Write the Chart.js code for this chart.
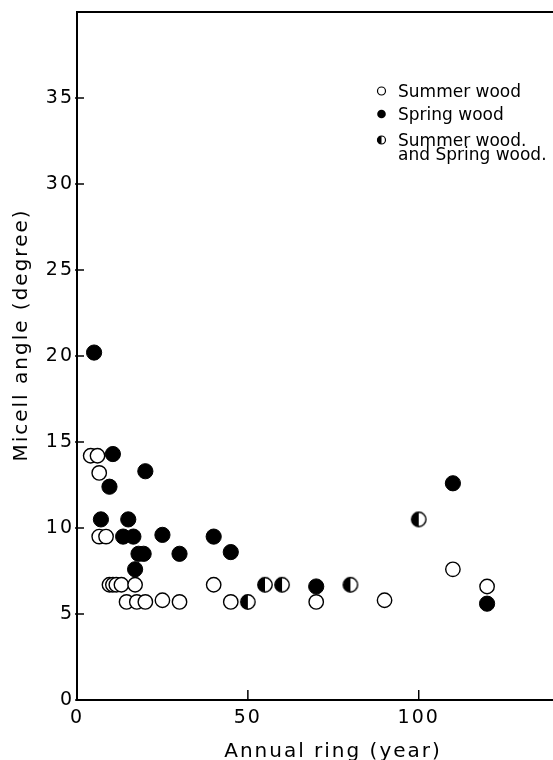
<!DOCTYPE html>
<html>
<head>
<meta charset="utf-8">
<script src="https://cdn.jsdelivr.net/npm/chart.js@4"></script>
<style>
  html, body { margin: 0; padding: 0; background: #fff; overflow: hidden; }
  #wrap { width: 553px; height: 760px; }
  canvas { display: block; }
</style>
</head>
<body>
<div id="wrap"><canvas id="micellChart" width="553" height="760"></canvas></div>
<script>
// Summer wood (open circles)
const summerX = [4, 6, 6.5, 6.5, 8.5, 9.5, 10.5, 11.5, 13, 17, 14.5, 17.5, 20, 25, 30, 40, 45, 70, 90, 110, 120];
const summerY = [14.2, 14.2, 13.2, 9.5, 9.5, 6.7, 6.7, 6.7, 6.7, 6.7, 5.7, 5.7, 5.7, 5.8, 5.7, 6.7, 5.7, 5.7, 5.8, 7.6, 6.6];

// Spring wood (filled circles)
const springX = [5, 10.5, 20, 9.5, 7, 15, 13.5, 16.5, 25, 40, 18, 19.5, 30, 45, 17, 70, 110, 120];
const springY = [20.2, 14.3, 13.3, 12.4, 10.5, 10.5, 9.5, 9.5, 9.6, 9.5, 8.5, 8.5, 8.5, 8.6, 7.6, 6.6, 12.6, 5.6];

// Summer wood and spring wood (half filled)
const bothX = [50, 55, 60, 80, 100];
const bothY = [5.7, 6.7, 6.7, 6.7, 10.5];

const xTicks = [0, 50, 100];
const yTicks = [0, 5, 10, 15, 20, 25, 30, 35];

const legendLabels = ['Summer wood', 'Spring wood', 'Summer wood.', 'and Spring wood.'];

function toPoints(xs, ys) {
    return xs.map((x, i) => ({ x: x, y: ys[i] }));
}

// circle with left half black, used as a point style
function halfDot(r, lw) {
    var size = Math.ceil(2 * r + lw + 2);
    var c = document.createElement('canvas');
    c.width = size;
    c.height = size;
    var g = c.getContext('2d');
    var m = size / 2;
    g.fillStyle = '#fff';
    g.beginPath(); g.arc(m, m, r, 0, 2 * Math.PI); g.fill();
    g.fillStyle = '#000';
    g.beginPath(); g.arc(m, m, r, Math.PI / 2, Math.PI * 1.5); g.closePath(); g.fill();
    g.lineWidth = lw;
    g.strokeStyle = '#000';
    g.beginPath(); g.arc(m, m, r, 0, 2 * Math.PI); g.stroke();
    return c;
}

const FONT = '"DejaVu Sans", sans-serif';

// ticks pointing into the plot, top frame line, axis titles and key
const decorations = {
    id: 'decorations',
    beforeDraw(chart) {
        const ctx = chart.ctx;
        ctx.save();
        ctx.fillStyle = '#fff';
        ctx.fillRect(0, 0, chart.width, chart.height);
        ctx.restore();
        ctx.letterSpacing = '2px';
    },
    afterDraw(chart) {
        const ctx = chart.ctx;
        const area = chart.chartArea;
        const xs = chart.scales.x, ys = chart.scales.y;
        ctx.save();
        ctx.letterSpacing = '0px';
        ctx.strokeStyle = '#000';
        ctx.fillStyle = '#000';

        ctx.lineWidth = 2;
        ctx.beginPath();
        ctx.moveTo(area.left - 1, area.top);
        ctx.lineTo(chart.width, area.top);
        ctx.stroke();

        ctx.lineWidth = 1.5;
        xTicks.forEach(v => {
            const px = xs.getPixelForValue(v);
            ctx.beginPath();
            ctx.moveTo(px, area.bottom);
            ctx.lineTo(px, area.bottom - 10);
            ctx.stroke();
        });
        yTicks.forEach(v => {
            const py = ys.getPixelForValue(v);
            ctx.beginPath();
            ctx.moveTo(area.left - 2, py);
            ctx.lineTo(area.left + 7, py);
            ctx.stroke();
        });

        // axis titles
        ctx.letterSpacing = '2px';
        ctx.font = '20px ' + FONT;
        ctx.textAlign = 'center';
        ctx.textBaseline = 'alphabetic';
        ctx.fillText('Annual ring (year)', 333, 757);
        ctx.save();
        ctx.translate(27, 335);
        ctx.rotate(-Math.PI / 2);
        ctx.fillText('Micell angle (degree)', 0, 0);
        ctx.restore();

        // key
        ctx.letterSpacing = '0px';
        ctx.font = '17px ' + FONT;
        ctx.textAlign = 'left';
        const kx = 381.5, tx = 398;
        const rows = [91, 114, 140];
        ctx.lineWidth = 1.2;
        ctx.beginPath(); ctx.arc(kx, rows[0], 4, 0, 2 * Math.PI); ctx.stroke();
        ctx.beginPath(); ctx.arc(kx, rows[1], 4.3, 0, 2 * Math.PI); ctx.fill();
        ctx.beginPath(); ctx.arc(kx, rows[2], 4, Math.PI / 2, Math.PI * 1.5); ctx.closePath(); ctx.fill();
        ctx.beginPath(); ctx.arc(kx, rows[2], 4, 0, 2 * Math.PI); ctx.stroke();
        ctx.fillText(legendLabels[0], tx, 97);
        ctx.fillText(legendLabels[1], tx, 120);
        ctx.fillText(legendLabels[2], tx, 146);
        ctx.fillText(legendLabels[3], tx, 160);
        ctx.restore();
    }
};

var ctx = document.getElementById('micellChart').getContext('2d');
var micellChart = new Chart(ctx, {
    type: 'scatter',
    data: {
        datasets: [{
            label: 'Summer wood',
            data: toPoints(summerX, summerY),
            pointStyle: 'circle',
            pointRadius: 7.2,
            borderWidth: 1.4,
            borderColor: '#000',
            backgroundColor: '#fff',
            order: 3
        }, {
            label: 'Spring wood',
            data: toPoints(springX, springY),
            pointStyle: 'circle',
            pointRadius: 7.6,
            borderWidth: 1,
            borderColor: '#000',
            backgroundColor: '#000',
            order: 2
        }, {
            label: 'Summer wood and Spring wood',
            data: toPoints(bothX, bothY),
            pointStyle: halfDot(7.2, 1.4),
            pointRadius: 7.2,
            borderColor: '#000',
            backgroundColor: '#000',
            order: 1
        }]
    },
    options: {
        responsive: false,
        animation: false,
        layout: { autoPadding: false, padding: { left: 0, top: 12, right: 1, bottom: 0 } },
        plugins: {
            legend: { display: false },
            tooltip: { enabled: false }
        },
        scales: {
            x: {
                type: 'linear',
                min: 0,
                max: 139,
                afterBuildTicks: (scale) => { scale.ticks = xTicks.map(v => ({ value: v })); },
                afterFit: (scale) => {
                    scale.height = 60;
                    scale.paddingLeft = 0;
                    scale.paddingRight = 0;
                },
                grid: { drawOnChartArea: false, drawTicks: false },
                border: { display: true, color: '#000', width: 2 },
                ticks: { color: '#000', padding: 7, maxRotation: 0, font: { family: FONT, size: 19 } }
            },
            y: {
                type: 'linear',
                min: 0,
                max: 40,
                afterBuildTicks: (scale) => { scale.ticks = yTicks.map(v => ({ value: v })); },
                afterFit: (scale) => {
                    scale.width = 77;
                    scale.paddingTop = 0;
                    scale.paddingBottom = 0;
                },
                grid: { drawOnChartArea: false, drawTicks: false },
                border: { display: true, color: '#000', width: 2 },
                ticks: { color: '#000', padding: 3, font: { family: FONT, size: 19 } }
            }
        }
    },
    plugins: [decorations]
});
</script>
</body>
</html>
